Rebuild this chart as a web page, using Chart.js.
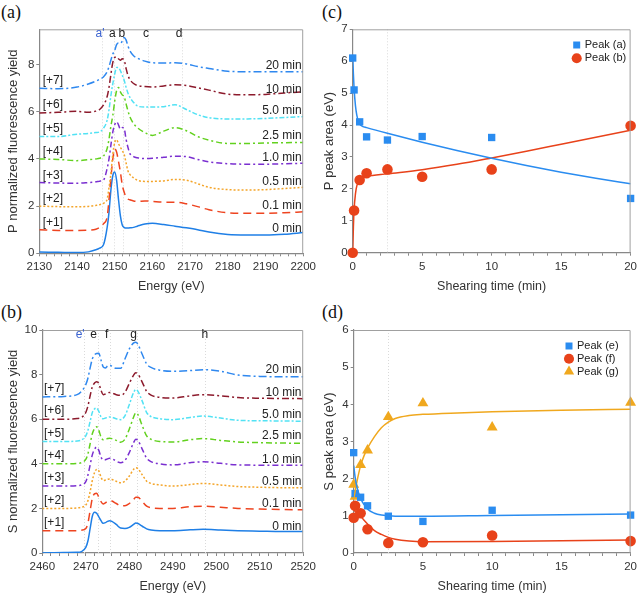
<!DOCTYPE html>
<html>
<head>
<meta charset="utf-8">
<script src="https://cdn.jsdelivr.net/npm/chart.js@4.4.1/dist/chart.umd.min.js"></script>
<style>
  body { margin: 0; background: #fff; }
  #wrap { position: relative; width: 641px; height: 597px; overflow: hidden; }
  canvas { position: absolute; }
  .plabel { position: absolute; font-family: 'Liberation Serif', 'DejaVu Serif', serif; font-size: 18px; color: #111; }
</style>
</head>
<body>
<div id="wrap">
  <div class="plabel" style="left:1px;top:2px">(a)</div>
  <div class="plabel" style="left:1px;top:302px">(b)</div>
  <div class="plabel" style="left:322px;top:2px">(c)</div>
  <div class="plabel" style="left:322px;top:302px">(d)</div>
  <canvas id="chartA" width="320" height="298" style="left:0;top:0"></canvas>
  <canvas id="chartB" width="320" height="297" style="left:0;top:300px"></canvas>
  <canvas id="chartC" width="321" height="298" style="left:320px;top:0"></canvas>
  <canvas id="chartD" width="321" height="297" style="left:320px;top:300px"></canvas>
</div>
<script>
// ---------- data ----------
const timeLabels = ['0 min', '0.1 min', '0.5 min', '1.0 min', '2.5 min', '5.0 min', '10 min', '20 min'];
const offsetLabels = ['[+1]', '[+2]', '[+3]', '[+4]', '[+5]', '[+6]', '[+7]'];

// (a) P K-edge, offset spectra as plotted
const pEnergy = [2130, 2135, 2140, 2143, 2145, 2146, 2147, 2148, 2148.5, 2149, 2149.5, 2150, 2150.5, 2151, 2151.5, 2152, 2152.5, 2153, 2153.5, 2154, 2155, 2156, 2158, 2160, 2163, 2166, 2169, 2172, 2175, 2180, 2185, 2190, 2195, 2200];
const p0 = [0.05, 0.04, 0.03, 0.06, 0.15, 0.22, 0.35, 1.1, 1.76, 2.7, 3.3, 3.45, 3.1, 2.3, 1.6, 1.2, 1.1, 1.07, 1.07, 1.08, 1.1, 1.15, 1.24, 1.27, 1.22, 1.15, 1.08, 1.0, 0.9, 0.8, 0.78, 0.78, 0.81, 0.88];
const p01 = [1.0, 0.97, 0.97, 0.98, 1.02, 1.1, 1.25, 1.55, 2.3, 3.2, 4.0, 4.42, 4.3, 3.9, 3.45, 2.9, 2.6, 2.38, 2.3, 2.27, 2.22, 2.2, 2.22, 2.2, 2.17, 2.17, 2.1, 1.98, 1.85, 1.72, 1.7, 1.7, 1.72, 1.76];
const p05 = [2.0, 1.98, 1.97, 1.99, 2.03, 2.06, 2.12, 2.3, 2.8, 3.4, 4.2, 4.7, 4.82, 4.65, 4.5, 4.35, 4.2, 3.85, 3.5, 3.35, 3.2, 3.1, 3.05, 3.05, 3.07, 3.13, 3.1, 2.95, 2.8, 2.7, 2.68, 2.7, 2.75, 2.8];
const p1 = [3.0, 2.98, 2.97, 3.0, 3.03, 3.06, 3.1, 3.6, 4.02, 4.6, 5.15, 5.45, 5.58, 5.45, 5.27, 5.33, 5.3, 4.85, 4.5, 4.24, 4.1, 4.05, 4.02, 4.03, 4.07, 4.12, 4.1, 3.98, 3.88, 3.8, 3.78, 3.78, 3.8, 3.82];
const p25 = [4.0, 3.98, 3.93, 3.97, 4.0, 4.03, 4.12, 4.45, 4.85, 5.4, 5.85, 6.45, 6.9, 7.03, 6.85, 6.72, 6.65, 6.35, 6.05, 5.8, 5.5, 5.33, 5.12, 5.0, 5.18, 5.33, 5.2, 4.95, 4.8, 4.66, 4.66, 4.68, 4.69, 4.7];
const p5 = [4.95, 4.95, 5.05, 5.08, 5.12, 5.15, 5.3, 5.65, 6.1, 6.7, 7.2, 7.6, 7.88, 7.88, 7.75, 7.55, 7.35, 7.05, 6.8, 6.62, 6.4, 6.25, 6.2, 6.2, 6.22, 6.3, 6.1, 5.88, 5.75, 5.7, 5.7, 5.72, 5.76, 5.8];
const p10 = [5.95, 5.98, 6.02, 5.98, 6.03, 6.1, 6.28, 6.65, 7.05, 7.6, 8.1, 8.3, 8.33, 8.25, 8.19, 8.25, 8.2, 7.85, 7.55, 7.38, 7.2, 7.12, 7.07, 7.05, 7.1, 7.15, 7.12, 7.02, 6.92, 6.75, 6.72, 6.74, 6.8, 6.85];
const p20 = [7.0, 6.98, 7.05, 7.18, 7.3, 7.38, 7.48, 7.7, 7.92, 8.2, 8.45, 8.6, 8.85, 8.92, 8.9, 9.0, 9.15, 9.05, 8.8, 8.6, 8.38, 8.28, 8.15, 8.08, 8.07, 8.08, 8.03, 7.92, 7.84, 7.72, 7.7, 7.7, 7.7, 7.7];

// (b) S K-edge, offset spectra as plotted
const sEnergy = [2460, 2465, 2468, 2469, 2470, 2470.5, 2471, 2471.5, 2472, 2472.5, 2473, 2473.5, 2474, 2474.5, 2475, 2475.5, 2476, 2477, 2478, 2479, 2480, 2481, 2481.5, 2482, 2483, 2484, 2485, 2487, 2490, 2494, 2497, 2501, 2505, 2510, 2515, 2520];
const s0 = [0.0, 0.02, 0.03, 0.06, 0.25, 0.55, 1.1, 1.65, 1.83, 1.78, 1.62, 1.45, 1.33, 1.36, 1.42, 1.45, 1.42, 1.28, 1.12, 1.1, 1.15, 1.28, 1.34, 1.32, 1.2, 1.08, 1.03, 1.0, 1.0, 1.04, 1.06, 1.03, 1.0, 0.98, 0.96, 0.96];
const s01 = [1.0, 1.0, 1.0, 1.02, 1.1, 1.35, 1.9, 2.45, 2.65, 2.68, 2.5, 2.3, 2.2, 2.25, 2.32, 2.35, 2.33, 2.22, 2.12, 2.12, 2.22, 2.4, 2.5, 2.5, 2.3, 2.1, 2.03, 2.0, 2.0, 2.08, 2.1, 2.05, 2.0, 1.97, 1.95, 1.94];
const s05 = [2.0, 2.0, 2.02, 2.05, 2.15, 2.35, 2.75, 3.25, 3.6, 3.75, 3.68, 3.4, 3.25, 3.27, 3.3, 3.32, 3.3, 3.22, 3.15, 3.22, 3.45, 3.75, 3.82, 3.78, 3.5, 3.22, 3.12, 3.05, 3.0, 3.07, 3.12, 3.05, 2.98, 2.95, 2.93, 2.93];
const s1 = [3.0, 3.0, 3.02, 3.05, 3.2, 3.5, 3.95, 4.4, 4.65, 4.75, 4.6, 4.3, 4.17, 4.18, 4.22, 4.25, 4.23, 4.12, 4.05, 4.15, 4.5, 4.95, 5.1, 5.05, 4.65, 4.25, 4.1, 4.0, 3.95, 4.05, 4.09, 4.02, 3.95, 3.94, 3.94, 3.94];
const s25 = [4.0, 4.0, 4.02, 4.05, 4.2, 4.45, 4.9, 5.35, 5.58, 5.66, 5.5, 5.2, 5.08, 5.1, 5.13, 5.15, 5.13, 5.05, 4.97, 5.1, 5.55, 6.1, 6.28, 6.2, 5.7, 5.25, 5.1, 5.0, 4.98, 5.08, 5.13, 5.05, 4.98, 4.95, 4.93, 4.92];
const s5 = [5.0, 5.0, 5.02, 5.07, 5.25, 5.5, 5.9, 6.3, 6.46, 6.5, 6.35, 6.1, 6.02, 6.05, 6.08, 6.1, 6.09, 6.02, 5.98, 6.15, 6.65, 7.2, 7.33, 7.25, 6.8, 6.3, 6.12, 6.02, 5.98, 6.08, 6.14, 6.05, 5.95, 5.93, 5.92, 5.91];
const s10 = [6.0, 6.0, 6.03, 6.08, 6.3, 6.6, 7.05, 7.45, 7.62, 7.68, 7.6, 7.3, 7.1, 7.13, 7.18, 7.2, 7.18, 7.1, 7.07, 7.2, 7.6, 7.98, 8.08, 8.02, 7.65, 7.25, 7.08, 6.98, 6.95, 7.05, 7.1, 7.05, 6.97, 6.94, 6.93, 6.92];
const s20 = [7.0, 7.02, 7.1, 7.25, 7.55, 7.85, 8.3, 8.7, 8.88, 8.95, 8.96, 8.65, 8.35, 8.3, 8.38, 8.42, 8.38, 8.28, 8.28, 8.7, 9.15, 9.42, 9.45, 9.35, 8.9, 8.48, 8.32, 8.2, 8.15, 8.18, 8.22, 8.15, 7.98, 7.92, 7.9, 7.9];

// (c), (d) peak areas vs shearing time
const shearTime = [0, 0.1, 0.5, 1, 2.5, 5, 10, 20];
const peakA = [6.1, 5.1, 4.1, 3.63, 3.53, 3.64, 3.61, 1.7];
const peakB = [0.0, 1.32, 2.28, 2.49, 2.61, 2.38, 2.61, 3.98];
const peakE = [2.7, 1.6, 1.5, 1.27, 0.99, 0.85, 1.15, 1.02];
const peakF = [0.95, 1.27, 1.07, 0.64, 0.27, 0.29, 0.47, 0.32];
const peakG = [1.84, 1.52, 2.37, 2.76, 3.66, 4.03, 3.38, 4.05];

// fitted curves (traced)
const fitATime = [0, 0.05, 0.1, 0.2, 0.3, 0.4, 0.5, 0.7, 1, 2.5, 5, 7.5, 10, 12.5, 15, 17.5, 20];
const fitA = [6.2, 5.6, 5.15, 4.6, 4.3, 4.12, 4.03, 3.96, 3.92, 3.74, 3.46, 3.2, 2.96, 2.73, 2.52, 2.33, 2.16];
const fitBTime = [0, 0.05, 0.1, 0.2, 0.3, 0.5, 0.75, 1, 2.5, 5, 7.5, 10, 12.5, 15, 17.5, 20];
const fitB = [0, 0.8, 1.35, 1.85, 2.1, 2.28, 2.36, 2.39, 2.47, 2.6, 2.77, 2.97, 3.18, 3.4, 3.62, 3.84];
const fitETime = [0, 0.1, 0.25, 0.5, 0.75, 1, 1.5, 2, 2.5, 3, 5, 10, 15, 20];
const fitE = [2.35, 2.05, 1.75, 1.47, 1.3, 1.18, 1.07, 1.02, 1.0, 0.99, 0.99, 1.01, 1.03, 1.05];
const fitFTime = [0, 0.5, 1, 1.5, 2, 2.5, 3, 4, 5, 10, 15, 20];
const fitF = [1.15, 0.98, 0.78, 0.6, 0.5, 0.42, 0.37, 0.32, 0.3, 0.31, 0.33, 0.35];
const fitGTime = [0, 0.25, 0.5, 0.75, 1, 1.5, 2, 2.5, 3, 4, 5, 7.5, 10, 15, 20];
const fitG = [1.45, 1.95, 2.35, 2.62, 2.82, 3.13, 3.37, 3.52, 3.62, 3.7, 3.73, 3.77, 3.8, 3.84, 3.87];

// ---------- styling ----------
Chart.defaults.font.family = "'Liberation Sans', Arial, sans-serif";
Chart.defaults.color = '#333';
Chart.defaults.animation = false;

const specColors = ['#1f7fe6', '#ee4420', '#f4a52a', '#7a2fd0', '#62d11e', '#52e2f4', '#8c1a2c', '#2f88ef'];
const specDashes = [[], [8, 5], [2, 2], [6, 3, 2, 3], [6, 3, 2, 3], [5, 2, 2, 2], [7, 3, 2, 3], [8, 3, 2, 3]];
const BLUE = '#2a8cf0', RED = '#e8421a', ORANGE = '#f0a81e';

const pts = (xs, ys) => xs.map((x, i) => ({ x: x, y: ys[i] }));

// frame, dotted guide lines, text annotations and legend
const deco = {
    id: 'deco',
    beforeDatasetsDraw(chart, args, opts) {
        const { ctx, chartArea: a, scales } = chart;
        ctx.save();
        ctx.strokeStyle = '#dadada';
        ctx.lineWidth = 1;
        ctx.setLineDash([1, 2]);
        (opts.vlines || []).forEach((v) => {
            const px = Math.round(scales.x.getPixelForValue(v)) + 0.5;
            ctx.beginPath();
            ctx.moveTo(px, a.top);
            ctx.lineTo(px, a.bottom);
            ctx.stroke();
        });
        ctx.restore();
    },
    afterDraw(chart, args, opts) {
        const { ctx, chartArea: a, scales } = chart;
        ctx.save();
        ctx.strokeStyle = '#a0a0a0';
        ctx.lineWidth = 1;
        ctx.beginPath();
        ctx.moveTo(a.left, a.top + 0.5);
        ctx.lineTo(a.right - 0.5, a.top + 0.5);
        ctx.lineTo(a.right - 0.5, a.bottom);
        ctx.stroke();
        ctx.textBaseline = 'middle';
        (opts.texts || []).forEach((t) => {
            ctx.font = t.font || "12px 'Liberation Sans', Arial, sans-serif";
            ctx.fillStyle = t.color || '#222';
            ctx.textAlign = t.align || 'center';
            ctx.fillText(t.text, scales.x.getPixelForValue(t.x), scales.y.getPixelForValue(t.y));
        });
        if (opts.legend) {
            const lg = opts.legend;
            lg.items.forEach((it, i) => {
                const ds = chart.data.datasets[it];
                const y = lg.y + i * lg.gap;
                ctx.fillStyle = ds.backgroundColor;
                ctx.strokeStyle = ds.backgroundColor;
                Chart.helpers.drawPoint(ctx, { pointStyle: ds.pointStyle, radius: ds.pointRadius * 0.95, rotation: 0, borderWidth: 0 }, lg.x, y);
                ctx.fillStyle = '#222';
                ctx.font = "11px 'Liberation Sans', Arial, sans-serif";
                ctx.textAlign = 'left';
                ctx.fillText(ds.label, lg.x + 8, y);
            });
        }
        ctx.restore();
    },
};

function xAxis(min, max, step, every, title, h) {
    return {
        type: 'linear', min: min, max: max,
        afterFit: (s) => { s.height = h; },
        border: { color: '#888', width: 1.2 },
        grid: { drawOnChartArea: false, tickLength: 3, color: '#888' },
        ticks: { stepSize: step, includeBounds: false, padding: 4, maxRotation: 0, autoSkip: false, font: { size: 11.5 },
            callback: (v) => (Math.abs(v % every) < 1e-6 ? v : '') },
        title: { display: true, text: title, font: { size: 12.5 }, padding: { top: 0, bottom: 3 } },
    };
}
function yAxis(min, max, step, title, w, tpad) {
    return {
        type: 'linear', min: min, max: max,
        afterFit: (s) => { s.width = w; },
        border: { color: '#888', width: 1.2 },
        grid: { drawOnChartArea: false, tickLength: 3, color: '#888' },
        ticks: { stepSize: step, includeBounds: false, padding: 2, font: { size: 11.5 } },
        title: { display: true, text: title, font: { size: 13 }, padding: { top: tpad, bottom: 0 } },
    };
}

function specChart(id, energy, curves, xmin, xmax, xTitle, yTitle, ymax, pad, yw, texts, vlines) {
    const datasets = curves.map((ys, i) => ({
        label: timeLabels[i],
        data: pts(energy, ys),
        borderColor: specColors[i],
        borderWidth: 1.5,
        borderDash: specDashes[i],
        pointRadius: 0,
        cubicInterpolationMode: 'monotone',
        fill: false,
    })).reverse();
    return new Chart(document.getElementById(id), {
        type: 'line',
        data: { datasets: datasets },
        options: {
            responsive: false,
            layout: { padding: pad },
            plugins: { legend: { display: false }, tooltip: { enabled: false }, deco: { texts: texts, vlines: vlines } },
            scales: {
                x: xAxis(xmin, xmax, 2, 10, xTitle, 44),
                y: yAxis(0, ymax, 2, yTitle, yw, 6),
            },
        },
        plugins: [deco],
    });
}

function curveTexts(xRight, yLabel, xLeft, yOffset) {
    const t = [];
    timeLabels.forEach((s, i) => t.push({ text: s, x: xRight, y: yLabel[i], align: 'right' }));
    offsetLabels.forEach((s, i) => t.push({ text: s, x: xLeft, y: i + 1 + yOffset, align: 'left' }));
    return t;
}

// (a)
const textsA = curveTexts(2199.6, [1.03, 2.0, 3.02, 4.04, 4.97, 6.03, 6.96, 7.94], 2130.9, 0.3).concat([
    { text: "a'", x: 2146.1, y: 9.32, color: '#3a62d0' },
    { text: 'a', x: 2149.4, y: 9.32 },
    { text: 'b', x: 2151.9, y: 9.32 },
    { text: 'c', x: 2158.3, y: 9.32 },
    { text: 'd', x: 2167.1, y: 9.32 },
]);
specChart('chartA', pEnergy, [p0, p01, p05, p1, p25, p5, p10, p20], 2130, 2200, 'Energy (eV)',
    'P normalized fluorescence yield', 9.5, { left: 0, top: 29.3, right: 16.7, bottom: 0.7 }, 39.3,
    textsA, [2146.5, 2149.8, 2152.3, 2158.8, 2167.8]);

// (b)
const textsB = curveTexts(2519.6, [1.19, 2.2, 3.21, 4.2, 5.24, 6.21, 7.2, 8.22], 2460.4, 0.36).concat([
    { text: "e'", x: 2468.7, y: 9.78, color: '#3a62d0' },
    { text: 'e', x: 2471.8, y: 9.78 },
    { text: 'f', x: 2474.8, y: 9.78 },
    { text: 'g', x: 2481.0, y: 9.78 },
    { text: 'h', x: 2497.4, y: 9.78 },
]);
specChart('chartB', sEnergy, [s0, s01, s05, s1, s25, s5, s10, s20], 2460, 2520, 'Energy (eV)',
    'S normalized fluorescence yield', 10, { left: 0, top: 30, right: 13.3, bottom: 0 }, 42.3,
    textsB, [2469.5, 2472.8, 2475.5, 2481.8, 2497.5]);

function marks(label, ys, color, style, r) {
    return { label: label, data: pts(shearTime, ys), showLine: false, pointStyle: style, pointRadius: r,
        backgroundColor: color, borderColor: color, borderWidth: 0, clip: false };
}
function fitLine(xs, ys, color) {
    return { label: '', data: pts(xs, ys), showLine: true, pointRadius: 0, borderColor: color, borderWidth: 1.5,
        cubicInterpolationMode: 'monotone', fill: false };
}

function peakChart(id, datasets, ymax, yTitle, pad, yw, legend) {
    return new Chart(document.getElementById(id), {
        type: 'scatter',
        data: { datasets: datasets },
        options: {
            responsive: false,
            layout: { padding: pad },
            plugins: { legend: { display: false }, tooltip: { enabled: false }, deco: { vlines: [2.5], legend: legend } },
            scales: {
                x: xAxis(0, 20, 1, 5, 'Shearing time (min)', 44),
                y: yAxis(0, ymax, 1, yTitle, yw, 2),
            },
        },
        plugins: [deco],
    });
}

// (c)
peakChart('chartC', [
    fitLine(fitATime, fitA, BLUE),
    fitLine(fitBTime, fitB, RED),
    marks('Peak (a)', peakA, BLUE, 'rect', 5.2),
    marks('Peak (b)', peakB, RED, 'circle', 5.3),
], 7, 'P peak area (eV)', { left: 0, top: 29.3, right: 8.3, bottom: 1.3 }, 32.7,
    { x: 256.7, y: 45, gap: 13.3, items: [2, 3] });

// (d)
peakChart('chartD', [
    fitLine(fitETime, fitE, BLUE),
    fitLine(fitFTime, fitF, RED),
    fitLine(fitGTime, fitG, ORANGE),
    marks('Peak (e)', peakE, BLUE, 'rect', 5.2),
    marks('Peak (f)', peakF, RED, 'circle', 5.3),
    marks('Peak (g)', peakG, ORANGE, 'triangle', 6.3),
], 6, 'S peak area (eV)', { left: 0, top: 30, right: 7.7, bottom: 0 }, 33.7,
    { x: 249, y: 46, gap: 12.8, items: [3, 4, 5] });
</script>
</body>
</html>
